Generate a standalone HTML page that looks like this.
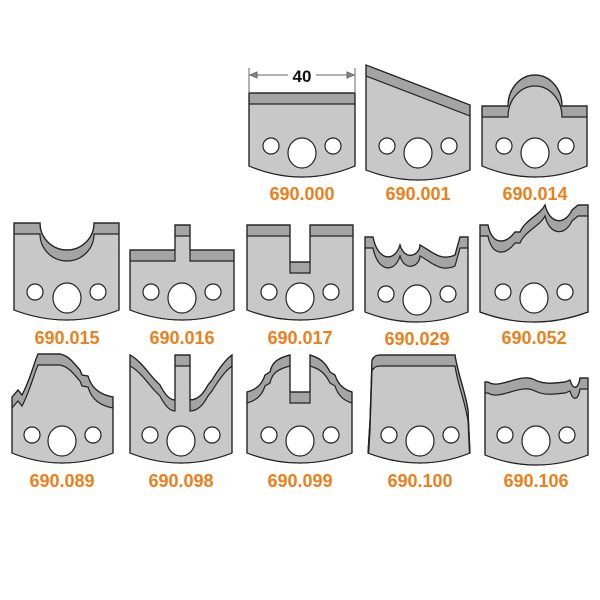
<!DOCTYPE html>
<html><head><meta charset="utf-8"><style>html,body{margin:0;padding:0;background:#fff}svg{display:block}</style></head><body>
<svg width="600" height="600" viewBox="0 0 600 600" xmlns="http://www.w3.org/2000/svg">
<defs>
<path id="p0" d="M249,93 L355,93 L355,166 Q302,188 249,166 Z"/>
<path id="p1" d="M366,65 L470,105 L470,170 Q418,190 366,170 Z"/>
<path id="p2" d="M482,106 L508,106 A27,31 0 0 1 562,106 L587,106 L587,166 Q535,188 482,166 Z"/>
<path id="p3" d="M14,223 L40,223 A27,27 0 0 0 94,223 L119,223 L119,310 Q67,330 14,310 Z"/>
<path id="p4" d="M130,250 L175,250 L175,225 L190,225 L190,250 L234,250 L234,310 Q182,330 130,310 Z"/>
<path id="p5" d="M247,225 L290,225 L290,262 L310,262 L310,225 L353,225 L353,310 Q300,330 247,310 Z"/>
<path id="p6" d="M365,237 L373,237 C378,262 395,262 400,245 C405,262 420,255 420,245 C430,250 440,262 455,255 L460,237 L468,237 L468,312 Q417,332 365,312 Z"/>
<path id="p7" d="M480,225 L488,225 C492,245 505,245 515,232 L520,232 C525,220 540,215 545,205 C550,225 565,225 572,210 L578,205 L588,205 L588,312 Q534,332 480,312 Z"/>
<path id="p8" d="M12,397 L18,390 L22,395 C30,380 35,360 38,354 L60,354 C70,356 75,365 80,370 L82,375 L88,376 C92,390 102,395 113,397 L113,453 Q62,473 12,453 Z"/>
<path id="p9" d="M130,355 C140,360 150,375 155,380 L160,385 C165,395 170,400 175,400 L175,355 L190,355 L190,400 C200,400 205,390 208,385 L212,380 C218,370 225,360 232,355 L232,453 Q181,473 130,453 Z"/>
<path id="p10" d="M247,392 C255,390 262,385 265,375 L270,372 C272,362 278,358 290,355 L290,392 L310,392 L310,355 C320,358 325,362 330,372 L335,375 C338,385 345,390 352,392 L352,453 Q300,473 247,453 Z"/>
<path id="p11" d="M372,360 Q374,355 380,355 L455,355 C458,375 465,390 468,410 L470,453 Q420,473 368,453 L370,420 Z"/>
<path id="p12" d="M485,382 L488,382 C500,390 520,372 535,380 C545,385 555,383 565,382 L570,380 C573,390 578,390 580,378 L588,378 L588,455 Q536,475 485,455 Z"/>
<clipPath id="c0"><use href="#p0"/></clipPath><clipPath id="c1"><use href="#p1"/></clipPath>
<clipPath id="c2"><use href="#p2"/></clipPath><clipPath id="c3"><use href="#p3"/></clipPath>
<clipPath id="c4"><use href="#p4"/></clipPath><clipPath id="c5"><use href="#p5"/></clipPath>
<clipPath id="c6"><use href="#p6"/></clipPath><clipPath id="c7"><use href="#p7"/></clipPath>
<clipPath id="c8"><use href="#p8"/></clipPath><clipPath id="c9"><use href="#p9"/></clipPath>
<clipPath id="c10"><use href="#p10"/></clipPath><clipPath id="c11"><use href="#p11"/></clipPath>
<clipPath id="c12"><use href="#p12"/></clipPath>
</defs>
<g stroke="#222" stroke-width="1.2">
<g><use href="#p0" fill="#a4a4a4"/><g clip-path="url(#c0)"><use href="#p0" transform="translate(0,11)" fill="#c8c8c8"/></g><use href="#p0" fill="none"/></g>
<g><use href="#p1" fill="#a4a4a4"/><g clip-path="url(#c1)"><use href="#p1" transform="translate(0,11)" fill="#c8c8c8"/></g><use href="#p1" fill="none"/></g>
<g><use href="#p2" fill="#a4a4a4"/><g clip-path="url(#c2)"><use href="#p2" transform="translate(0,11)" fill="#c8c8c8"/></g><use href="#p2" fill="none"/></g>
<g><use href="#p3" fill="#a4a4a4"/><g clip-path="url(#c3)"><use href="#p3" transform="translate(0,11)" fill="#c8c8c8"/></g><use href="#p3" fill="none"/></g>
<g><use href="#p4" fill="#a4a4a4"/><g clip-path="url(#c4)"><use href="#p4" transform="translate(0,11)" fill="#c8c8c8"/></g><use href="#p4" fill="none"/></g>
<g><use href="#p5" fill="#a4a4a4"/><g clip-path="url(#c5)"><use href="#p5" transform="translate(0,11)" fill="#c8c8c8"/></g><use href="#p5" fill="none"/></g>
<g><use href="#p6" fill="#a4a4a4"/><g clip-path="url(#c6)"><use href="#p6" transform="translate(0,11)" fill="#c8c8c8"/></g><use href="#p6" fill="none"/></g>
<g><use href="#p7" fill="#a4a4a4"/><g clip-path="url(#c7)"><use href="#p7" transform="translate(0,11)" fill="#c8c8c8"/></g><use href="#p7" fill="none"/></g>
<g><use href="#p8" fill="#a4a4a4"/><g clip-path="url(#c8)"><use href="#p8" transform="translate(0,11)" fill="#c8c8c8"/></g><use href="#p8" fill="none"/></g>
<g><use href="#p9" fill="#a4a4a4"/><g clip-path="url(#c9)"><use href="#p9" transform="translate(0,11)" fill="#c8c8c8"/></g><use href="#p9" fill="none"/></g>
<g><use href="#p10" fill="#a4a4a4"/><g clip-path="url(#c10)"><use href="#p10" transform="translate(0,11)" fill="#c8c8c8"/></g><use href="#p10" fill="none"/></g>
<g><use href="#p11" fill="#a4a4a4"/><g clip-path="url(#c11)"><use href="#p11" transform="translate(0,11)" fill="#c8c8c8"/></g><use href="#p11" fill="none"/></g>
<g><use href="#p12" fill="#a4a4a4"/><g clip-path="url(#c12)"><use href="#p12" transform="translate(0,11)" fill="#c8c8c8"/></g><use href="#p12" fill="none"/></g>
</g>
<g fill="#fff" stroke="#222" stroke-width="1.2">
<circle cx="271" cy="146" r="8"/><ellipse cx="302" cy="153" rx="14" ry="15"/><circle cx="333" cy="146" r="8"/>
<circle cx="387" cy="146" r="8"/><ellipse cx="418" cy="153" rx="14" ry="15"/><circle cx="449" cy="146" r="8"/>
<circle cx="504" cy="146" r="8"/><ellipse cx="535" cy="153" rx="14" ry="15"/><circle cx="566" cy="146" r="8"/>
<circle cx="35" cy="292" r="8"/><ellipse cx="67" cy="298" rx="14" ry="15"/><circle cx="98" cy="292" r="8"/>
<circle cx="151" cy="292" r="8"/><ellipse cx="182" cy="298" rx="14" ry="15"/><circle cx="213" cy="292" r="8"/>
<circle cx="269" cy="292" r="8"/><ellipse cx="300" cy="298" rx="14" ry="15"/><circle cx="331" cy="292" r="8"/>
<circle cx="386" cy="294" r="8"/><ellipse cx="417" cy="300" rx="14" ry="15"/><circle cx="448" cy="294" r="8"/>
<circle cx="503" cy="292" r="8"/><ellipse cx="534" cy="298" rx="14" ry="15"/><circle cx="565" cy="292" r="8"/>
<circle cx="32" cy="435" r="8"/><ellipse cx="62" cy="441" rx="14" ry="15"/><circle cx="93" cy="435" r="8"/>
<circle cx="150" cy="435" r="8"/><ellipse cx="181" cy="441" rx="14" ry="15"/><circle cx="212" cy="435" r="8"/>
<circle cx="269" cy="435" r="8"/><ellipse cx="300" cy="441" rx="14" ry="15"/><circle cx="331" cy="435" r="8"/>
<circle cx="389" cy="435" r="8"/><ellipse cx="420" cy="441" rx="14" ry="15"/><circle cx="451" cy="435" r="8"/>
<circle cx="505" cy="435" r="8"/><ellipse cx="536" cy="441" rx="14" ry="15"/><circle cx="567" cy="435" r="8"/>
</g>
<g stroke="#666" stroke-width="1" fill="none">
<line x1="249" y1="68" x2="249" y2="92"/><line x1="355" y1="68" x2="355" y2="92"/>
<line x1="250" y1="75" x2="288" y2="75"/><line x1="316" y1="75" x2="354" y2="75"/>
<path d="M250,75 L257,72 L257,78 Z M354,75 L347,72 L347,78 Z" fill="#888"/>
</g>
<text x="302" y="82" font-family="Liberation Sans, sans-serif" font-weight="bold" font-size="17" text-anchor="middle" fill="#111">40</text>
<g font-family="Liberation Sans, sans-serif" font-weight="bold" font-size="18" fill="#f07d1a" text-anchor="middle">
<text x="302" y="200">690.000</text><text x="418" y="200">690.001</text><text x="535" y="200">690.014</text>
<text x="67" y="344">690.015</text><text x="182" y="344">690.016</text><text x="300" y="344">690.017</text><text x="417" y="345">690.029</text><text x="534" y="344">690.052</text>
<text x="62" y="487">690.089</text><text x="181" y="487">690.098</text><text x="300" y="487">690.099</text><text x="420" y="487">690.100</text><text x="536" y="487">690.106</text>
</g>
</svg>
</body></html>
